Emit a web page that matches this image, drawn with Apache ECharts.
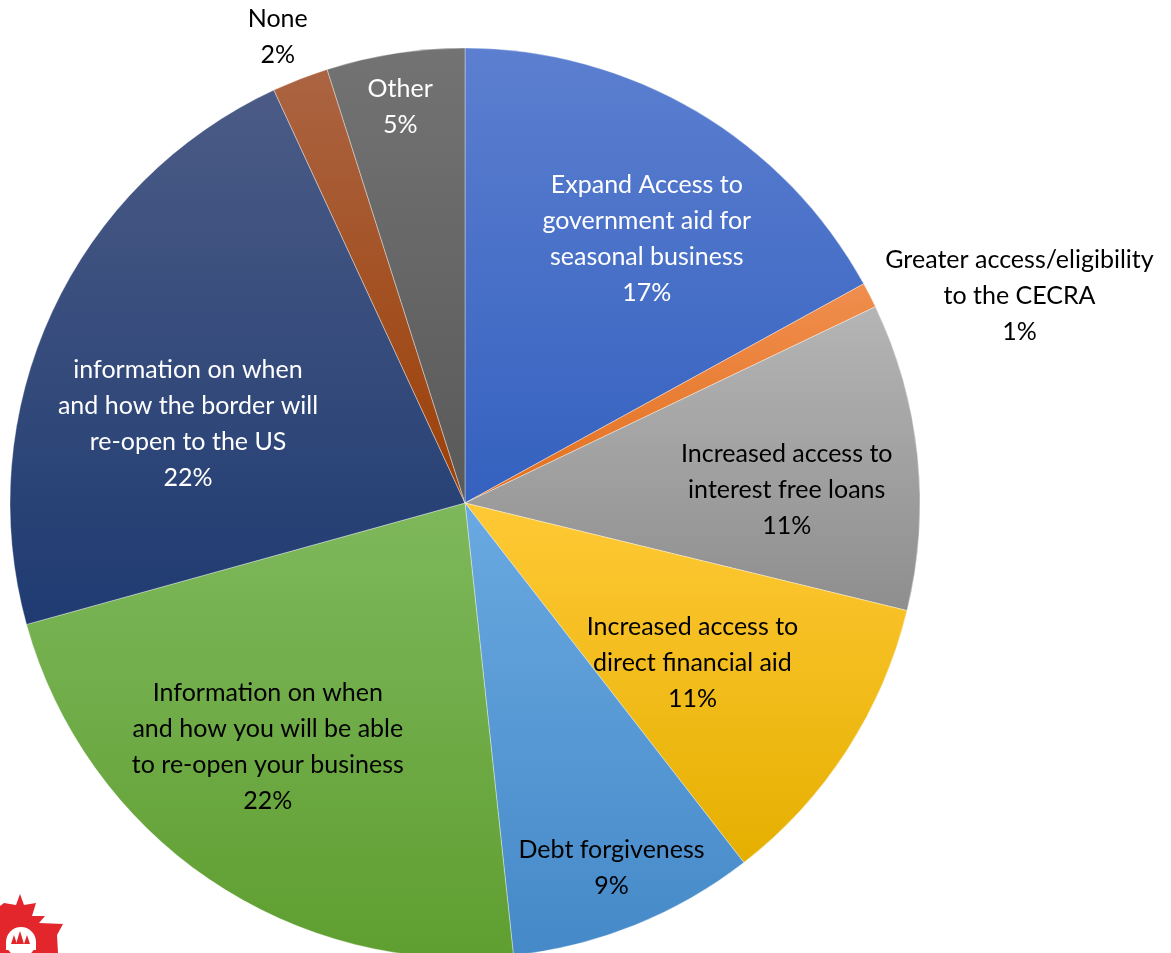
<!DOCTYPE html>
<html>
<head>
<meta charset="utf-8">
<script src="https://cdn.jsdelivr.net/npm/echarts@6/dist/echarts.min.js"></script>
<style>
html,body{margin:0;padding:0;background:#fff;}
#chart{width:1171px;height:953px;}
</style>
</head>
<body>
<div id="chart"></div>
<script>
// ---- data ----
const categories = [
  'Expand Access to\ngovernment aid for\nseasonal business',
  'Greater access/eligibility\nto the CECRA',
  'Increased access to\ninterest free loans',
  'Increased access to\ndirect financial aid',
  'Debt forgiveness',
  'Information on when\nand how you will be able\nto re-open your business',
  'information on when\nand how the border will\nre-open to the US',
  'None',
  'Other'
];
const values = [17.0, 0.9, 10.9, 10.7, 8.8, 22.4, 22.4, 2.0, 4.9];

// ---- styles (not data) ----
const gradTop =    ['#5C7FD0', '#F08E4E', '#B5B5B5', '#FFC936', '#6AA9E1', '#7EB85C', '#4B5B86', '#AB6442', '#737373'];
const gradBottom = ['#3461BF', '#E2701E', '#8E8E8E', '#E5AF00', '#4589C8', '#5F9E30', '#1F3B71', '#9C3F06', '#595959'];
const labelColors = ['#fff', '#000', '#000', '#000', '#000', '#000', '#fff', '#000', '#fff'];
// label placement: [angle clockwise from 12 o'clock (deg), distance from centre (px)]
const labelPolar = [[34.5, 321], [69.5, 592], [87.7, 322], [125.1, 278], [158.1, 393], [218.9, 314], [285.9, 288], [338.1, 502], [350.7, 401]];
const CX = 465, CY = 503, R = 455;

const chart = echarts.init(document.getElementById('chart'), null, {renderer: 'canvas'});

const seriesData = categories.map((name, i) => ({
  name: name,
  value: values[i],
  itemStyle: {
    color: new echarts.graphic.LinearGradient(0, 0, 0, 1, [
      {offset: 0, color: gradTop[i]},
      {offset: 1, color: gradBottom[i]}
    ])
  },
  label: {color: labelColors[i]}
}));

const RED = '#E3262B';

chart.setOption({
  backgroundColor: '#ffffff',
  animation: false,
  series: [{
    type: 'pie',
    center: [CX, CY],
    radius: R,
    startAngle: 90,
    clockwise: true,
    avoidLabelOverlap: false,
    emphasis: {disabled: true},
    itemStyle: {borderColor: 'rgba(255,255,255,0.6)', borderWidth: 0.6},
    label: {
      show: true,
      position: 'inside',
      fontFamily: 'Lato',
      fontSize: 25,
      lineHeight: 36,
      align: 'center',
      formatter: p => p.name + '\n' + Math.round(p.percent) + '%'
    },
    labelLine: {show: false},
    labelLayout: function (params) {
      const lp = labelPolar[params.dataIndex];
      const a = lp[0] * Math.PI / 180;
      return {
        x: CX + lp[1] * Math.sin(a),
        y: CY - lp[1] * Math.cos(a),
        align: 'center',
        verticalAlign: 'middle'
      };
    },
    data: seriesData
  }],
  graphic: [{
    type: 'group',
    x: 0,
    y: 888,
    silent: true,
    children: [
      {type: 'polygon', shape: {points: [[20,6],[24,17],[36,15],[32,28],[45,28],[39,35],[63,36],[57,47],[58,65],[-5,65],[-5,22],[4,15],[16,17]]}, style: {fill: RED}},
      {type: 'circle', shape: {cx: 21, cy: 54, r: 15}, style: {fill: '#fff'}},
      {type: 'rect', shape: {x: 6, y: 54, width: 30, height: 8}, style: {fill: '#fff'}},
      {type: 'polygon', shape: {points: [[20,43],[24,56],[16,56]]}, style: {fill: RED}},
      {type: 'polygon', shape: {points: [[14,47],[17,56],[11,56]]}, style: {fill: RED}},
      {type: 'polygon', shape: {points: [[27,47],[30,56],[24,56]]}, style: {fill: RED}}
    ]
  }]
});
</script>
</body>
</html>
